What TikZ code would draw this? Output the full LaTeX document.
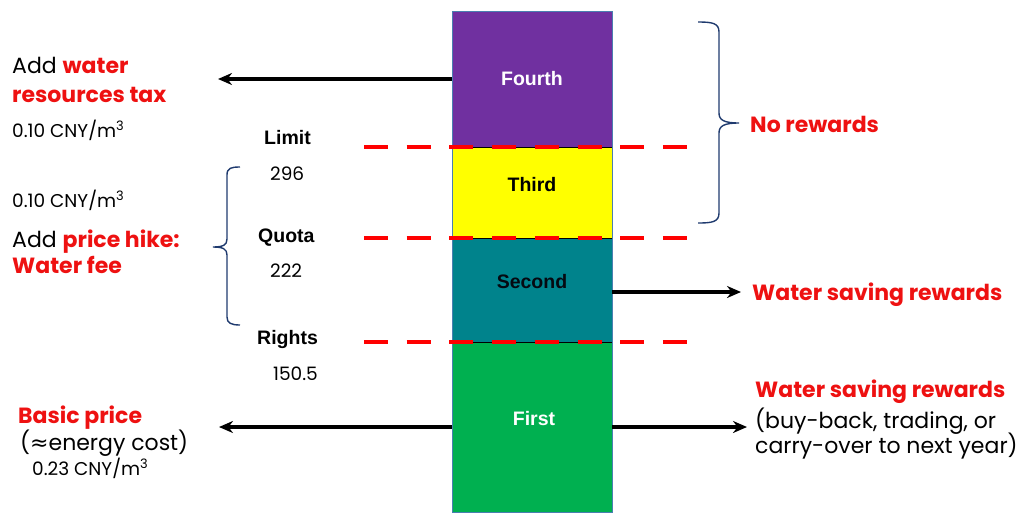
\documentclass[tikz,border=0pt]{standalone}
\usepackage{fontspec}
\usetikzlibrary{arrows.meta}
\newfontfamily\cg{Poppins}
\newfontfamily\ar{Liberation Sans}
\newfontfamily\dv{DejaVu Sans}
\definecolor{cpurple}{HTML}{7030A0}
\definecolor{cyellow}{HTML}{FFFF00}
\definecolor{cteal}{HTML}{00838C}
\definecolor{cgreen}{HTML}{00B050}
\definecolor{cred}{HTML}{EE1111}
\definecolor{dred}{HTML}{FF0000}
\definecolor{navy}{HTML}{1F3A6E}
\definecolor{edge}{HTML}{4A7FB0}
\tikzset{
  seg/.style={draw=edge, line width=0.8pt, minimum width=160pt, inner sep=0pt, font=\ar\bfseries\fontsize{19.5}{19.5}\selectfont},
  lab/.style={anchor=base west, inner sep=0pt, font=\ar\bfseries\fontsize{19.5}{19.5}\selectfont},
  num/.style={anchor=base west, inner sep=0pt, font=\cg\fontsize{18.5}{18.5}\selectfont},
  cny/.style={anchor=base west, inner sep=0pt, font=\cg\fontsize{18.5}{18.5}\selectfont},
  big/.style={anchor=base west, inner sep=0pt, font=\cg\fontsize{22}{22}\selectfont},
  redb/.style={anchor=base west, inner sep=0pt, text=cred, font=\cg\bfseries\fontsize{22}{22}\selectfont},
  arr/.style={draw=black, line width=3.5pt, -{Stealth[length=14pt,width=12pt]}},
  rdash/.style={draw=dred, line width=4pt, dash pattern=on 24pt off 18.7pt},
  brc/.style={draw=navy, line width=1.4pt}
}
\begin{document}
\begin{tikzpicture}[x=1pt,y=-1pt]
\useasboundingbox (0,0) rectangle (1027,512);
% column
\node[seg, fill=cpurple, minimum height=136pt, text=white] (fourth) at (532,79) {Fourth};
\node[seg, fill=cyellow, minimum height=91pt, text=black] (third) at (532,192.5) {};
\node[seg, fill=cteal, minimum height=104pt, text=black] (second) at (532,290) {};
\node[seg, fill=cgreen, minimum height=170pt, text=white] (first) at (532,427) {};
\node[lab, anchor=base, text=black] (thirdt) at (532,191) {Third};
\node[lab, anchor=base, text=black!85!navy] (secondt) at (532,288) {Second};
\node[lab, anchor=base, text=white] (firstt) at (534,425) {First};
\draw[black, line width=0.8pt] (fourth.south west) -- (fourth.south east);
\draw[black, line width=0.8pt] (third.south west) -- (third.south east);
\draw[black, line width=0.8pt] (second.south west) -- (second.south east);
% dashed lines
\coordinate (d1a) at (364,147); \coordinate (d1b) at (690,147);
\coordinate (d2a) at (364,238); \coordinate (d2b) at (690,238);
\coordinate (d3a) at (364,342); \coordinate (d3b) at (690,342);
\draw[rdash] (d1a) -- (d1b);
\draw[rdash] (d2a) -- (d2b);
\draw[rdash] (d3a) -- (d3b);
% labels middle
\node[lab] (limit) at (264,144) {Limit};
\node[num] (n296) at (270,180) {296};
\node[lab] (quota) at (258,242) {Quota};
\node[num] (n222) at (270,277) {222};
\node[lab] (rights) at (257,344) {Rights};
\node[num] (n150) at (273,380) {150.5};
% left texts
\node[big] (add1) at (12,73) {Add {\color{cred}\bfseries water}};
\node[redb] (tax) at (12,102) {resources tax};
\node[cny] (c1) at (12,137) {0.10 CNY/m\textsuperscript{3}};
\node[cny] (c2) at (12,207) {0.10 CNY/m\textsuperscript{3}};
\node[big] (add2) at (12,247) {Add {\color{cred}\bfseries price hike:}};
\node[redb] (fee) at (12,273) {Water fee};
\node[redb] (basic) at (18,423) {Basic price};
\node[big] (energy) at (20,450) {({\dv ≈}energy cost)};
\node[cny] (c3) at (32,475) {0.23 CNY/m\textsuperscript{3}};
% right texts
\node[redb] (norew) at (750,132) {No rewards};
\node[redb] (wsr1) at (752,300) {Water saving rewards};
\node[redb] (wsr2) at (755,397) {Water saving rewards};
\node[big] (bb) at (755,428) {(buy-back, trading, or};
\node[big] (co) at (755,453) {carry-over to next year)};
% arrows
\coordinate (t1) at (218,79);
\coordinate (t2) at (219,427);
\coordinate (t3) at (741,292);
\coordinate (t4) at (747,427);
\draw[arr] (fourth.west) -- (t1);
\draw[arr] (first.west) -- (t2);
\draw[arr] (second.east |- t3) -- (t3);
\draw[arr] (first.east) -- (t4);
% braces
\draw[brc] (698,22) .. controls (712,22) and (719,23) .. (719,32) -- (719,113) .. controls (719,120) and (724,123) .. (739,123)
  .. controls (724,123) and (719,126) .. (719,133) -- (719,213) .. controls (719,222) and (712,223) .. (698,223);
\draw[brc] (240,167) .. controls (231,167) and (227,168) .. (227,175) -- (227,239) .. controls (227,245) and (223,247) .. (213,247)
  .. controls (223,247) and (227,249) .. (227,255) -- (227,317) .. controls (227,323) and (231,325) .. (240,325);
\end{tikzpicture}
\end{document}
